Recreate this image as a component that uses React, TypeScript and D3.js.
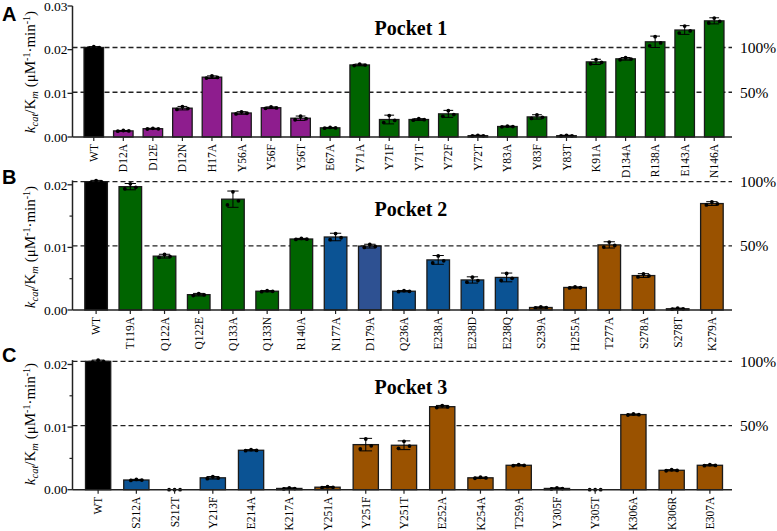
import React from "react";
import * as d3 from "d3";

// ---------- Data ----------
const labelsA = ["WT","D12A","D12E","D12N","H17A","Y56A","Y56F","Y56T","E67A","Y71A","Y71F","Y71T","Y72F","Y72T","Y83A","Y83F","Y83T","K91A","D134A","R138A","E143A","N146A"];
const valuesA = [0.0205,0.0014,0.0019,0.0066,0.0137,0.0055,0.0067,0.0043,0.0021,0.0165,0.0040,0.0040,0.0053,0.0003,0.0024,0.0046,0.0003,0.0172,0.0179,0.0218,0.0245,0.0266];
const errorsA = [0.0002,0.0001,0.0001,0.0004,0.0003,0.0003,0.0002,0.0005,0.0001,0.0002,0.0010,0.0002,0.0008,0.0001,0.0001,0.0005,0.0001,0.0006,0.0003,0.0013,0.0010,0.0007];
const groupsA = ["k","p","p","p","p","p","p","p","g","g","g","g","g","g","g","g","g","g","g","g","g","g"];

const labelsB = ["WT","T119A","Q122A","Q122E","Q133A","Q133N","R140A","N177A","D179A","Q236A","E238A","E238D","E238Q","S239A","H255A","T277A","S278A","S278T","K279A"];
const valuesB = [0.0205,0.0197,0.0086,0.00245,0.0177,0.0030,0.01134,0.01166,0.0102,0.0030,0.0080,0.0048,0.0052,0.0004,0.0036,0.0104,0.0055,0.0002,0.0170];
const errorsB = [0.0002,0.0005,0.0003,0.0002,0.0013,0.0001,0.0001,0.0006,0.0003,0.0001,0.0007,0.0005,0.0007,0.0001,0.0001,0.0005,0.0003,0.0001,0.0003];
const groupsB = ["k","g","g","g","g","g","g","b","d","b","b","b","b","o","o","o","o","o","o"];

const labelsC = ["WT","S212A","S212T","Y213F","E214A","K217A","Y251A","Y251F","Y251T","E252A","K254A","T259A","Y305F","Y305T","K306A","K306R","E307A"];
const valuesC = [0.0205,0.00155,0,0.0019,0.0063,0.0002,0.0004,0.0072,0.0071,0.01326,0.0019,0.0039,0.0002,0,0.0120,0.0031,0.0039];
const errorsC = [0.0002,0.0001,0,0.0002,0.0001,0.0001,0.0001,0.0010,0.0007,0.0002,0.0001,0.0001,0.0001,0,0.0001,0.0001,0.0001];
const groupsC = ["k","b","b","b","b","o","o","o","o","o","o","o","o","o","o","o","o"];

const ticksA = [0, 0.01, 0.02, 0.03];
const ticksBC = [0, 0.01, 0.02];
const minorBC = [0.005, 0.015];
const titles = ["Pocket 1", "Pocket 2", "Pocket 3"];
const panelLetters = ["A", "B", "C"];
const refLabels = ["100%", "50%"];
const repSpread = [-0.7, 0.9, -0.2];

const COLORS: Record<string, string> = {
  k: "#000000",
  p: "#8E1D8E",
  g: "#006400",
  b: "#0B5394",
  d: "#2E5192",
  o: "#9A5200",
};

const SERIF = '"Liberation Serif","Times New Roman",Times,serif';
const SANS = '"Liberation Sans",Arial,Helvetica,sans-serif';

const AX_LEFT = 72.5;
const AX_RIGHT = 732;

type PanelProps = {
  labels: string[];
  values: number[];
  errors: number[];
  groups: string[];
  yDomainMax: number;
  yRange: [number, number];
  ticks: number[];
  minor: number[];
  title: string;
  titleY: number;
  letter: string;
  letterY: number;
  labelCenter: number;
};

function Panel(p: PanelProps) {
  const y = d3.scaleLinear().domain([0, p.yDomainMax]).range(p.yRange);
  const x = d3.scaleBand<string>().domain(p.labels).range([79, 729]).paddingInner(0.34).paddingOuter(0.17);
  const bw = x.bandwidth();
  const y0 = y(0);
  const ref = p.values[0];
  const refs = [ref, ref / 2];
  const axisCol = "#222";
  return (
    <g>
      <text x={2} y={p.letterY} fontFamily={SANS} fontWeight="bold" fontSize={20} fill="#000">{p.letter}</text>
      <text x={411} y={p.titleY} fontFamily={SERIF} fontWeight="bold" fontSize={20} textAnchor="middle" fill="#000">{p.title}</text>
      {/* reference dashed lines */}
      {refs.map((r, i) => (
        <g key={"r" + i}>
          <line x1={AX_LEFT} x2={AX_RIGHT} y1={y(r)} y2={y(r)} stroke="#222" strokeWidth={1.3} strokeDasharray="5,3" />
          <text x={740} y={y(r)} dy="0.35em" fontFamily={SERIF} fontSize={15.5} fill="#000">{refLabels[i]}</text>
        </g>
      ))}
      {/* bars */}
      {p.labels.map((l, i) => {
        const v = p.values[i];
        const xl = x(l) as number;
        return (
          <rect key={"b" + l} x={xl} y={y(v)} width={bw} height={Math.max(0, y0 - y(v))}
            fill={COLORS[p.groups[i]]} stroke="#1a1a1a" strokeWidth={1.3} />
        );
      })}
      {/* error bars and dots */}
      {p.labels.map((l, i) => {
        const v = p.values[i];
        const e = p.errors[i];
        const cx = (x(l) as number) + bw / 2;
        const cw = Math.max(4, bw * 0.25);
        return (
          <g key={"e" + l}>
            {e > 0 && (
              <g stroke="#000" strokeWidth={1}>
                <line x1={cx} x2={cx} y1={y(v - e)} y2={y(v + e)} />
                <line x1={cx - cw} x2={cx + cw} y1={y(v + e)} y2={y(v + e)} />
                <line x1={cx - cw} x2={cx + cw} y1={y(v - e)} y2={y(v - e)} />
              </g>
            )}
            {repSpread.map((s, j) => (
              <circle key={j} cx={cx + (j - 1) * 5.5} cy={y(v + e * s)} r={1.9} fill="#000" />
            ))}
          </g>
        );
      })}
      {/* y axis */}
      <line x1={AX_LEFT} x2={AX_LEFT} y1={y0} y2={y(p.yDomainMax)} stroke={axisCol} strokeWidth={1.5} />
      {p.ticks.map((t) => (
        <g key={"t" + t}>
          <line x1={AX_LEFT - 5} x2={AX_LEFT} y1={y(t)} y2={y(t)} stroke={axisCol} strokeWidth={1.3} />
          <text x={AX_LEFT - 5} y={y(t)} dy="0.35em" textAnchor="end" fontFamily={SERIF} fontSize={13.5} fill="#000">{t.toFixed(2)}</text>
        </g>
      ))}
      {p.minor.map((t) => (
        <line key={"m" + t} x1={AX_LEFT - 3} x2={AX_LEFT} y1={y(t)} y2={y(t)} stroke={axisCol} strokeWidth={1.2} />
      ))}
      {/* x axis */}
      <line x1={AX_LEFT} x2={AX_RIGHT} y1={y0} y2={y0} stroke={axisCol} strokeWidth={1.5} />
      {p.labels.map((l) => {
        const cx = (x(l) as number) + bw / 2;
        return (
          <g key={"x" + l}>
            <line x1={cx} x2={cx} y1={y0} y2={y0 + 4} stroke={axisCol} strokeWidth={1.2} />
            <text transform={`translate(${cx},${y0 + 7}) rotate(-90)`} dy="0.35em" textAnchor="end"
              fontFamily={SERIF} fontSize={11.5} fill="#000">{l}</text>
          </g>
        );
      })}
      {/* y axis title */}
      <text transform={`translate(35,${p.labelCenter}) rotate(-90)`} textAnchor="middle" fontFamily={SERIF} fontSize={15} fill="#000">
        <tspan fontStyle="italic">k</tspan>
        <tspan fontStyle="italic" fontSize={10.5} dy={3}>cat</tspan>
        <tspan dy={-3}>/K</tspan>
        <tspan fontStyle="italic" fontSize={10.5} dy={3}>m</tspan>
        <tspan dy={-3}> (μM</tspan>
        <tspan fontSize={10} dy={-5}>-1</tspan>
        <tspan dy={5}>·min</tspan>
        <tspan fontSize={10} dy={-5}>-1</tspan>
        <tspan dy={5}>)</tspan>
      </text>
    </g>
  );
}

export default function App() {
  return (
    <svg width={777} height={531} viewBox="0 0 777 531"
      style={{ position: "absolute", left: 0, top: 0, background: "#fff" }}>
      <rect x={0} y={0} width={777} height={531} fill="#fff" />
      <Panel labels={labelsA} values={valuesA} errors={errorsA} groups={groupsA}
        yDomainMax={0.03} yRange={[137, 6]} ticks={ticksA} minor={[]}
        title={titles[0]} titleY={34.5} letter={panelLetters[0]} letterY={21} labelCenter={72} />
      <Panel labels={labelsB} values={valuesB} errors={errorsB} groups={groupsB}
        yDomainMax={0.0207} yRange={[310, 180.4]} ticks={ticksBC} minor={minorBC}
        title={titles[1]} titleY={215.5} letter={panelLetters[1]} letterY={184} labelCenter={247} />
      <Panel labels={labelsC} values={valuesC} errors={errorsC} groups={groupsC}
        yDomainMax={0.0207} yRange={[489.7, 360.1]} ticks={ticksBC} minor={minorBC}
        title={titles[2]} titleY={394} letter={panelLetters[2]} letterY={362} labelCenter={424} />
    </svg>
  );
}
